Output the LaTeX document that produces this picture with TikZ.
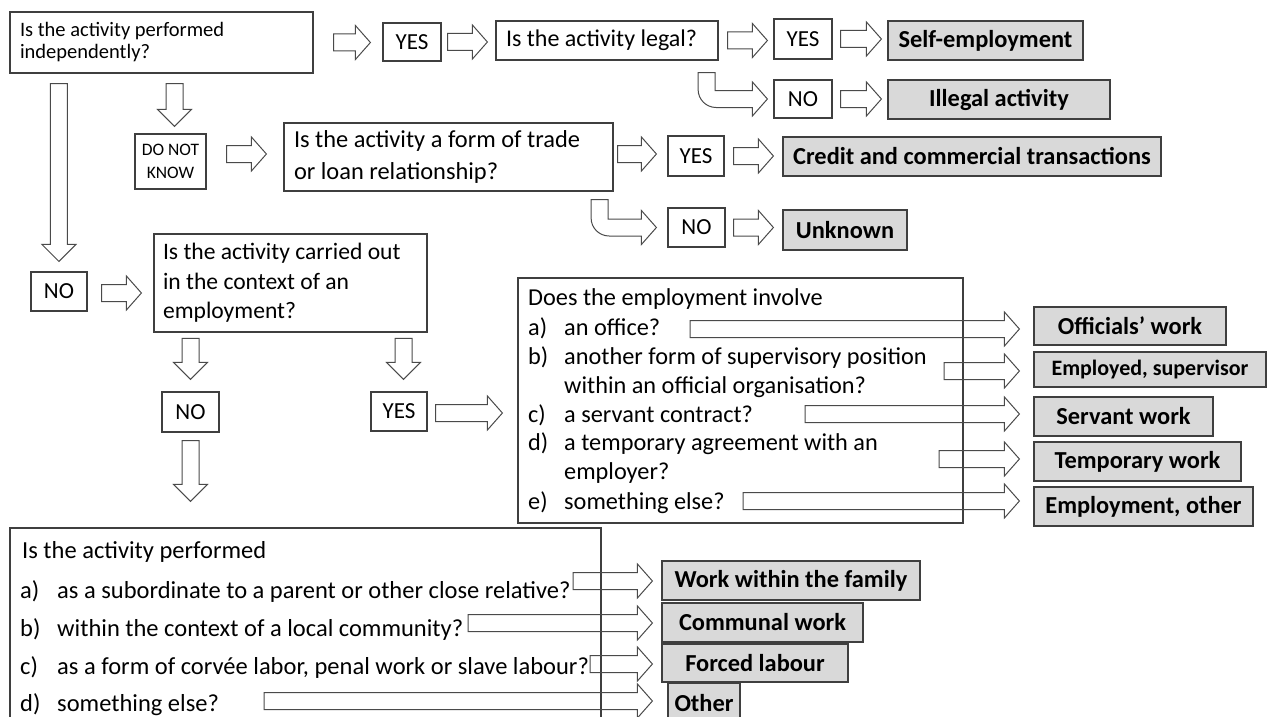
\documentclass[tikz,border=0pt]{standalone}
\usepackage{fontspec}
\setmainfont{Carlito}
\usetikzlibrary{calc}
\definecolor{BoxLine}{HTML}{3F3F3F}
\definecolor{ArrowLine}{HTML}{4A4A4A}
\definecolor{ResultFill}{HTML}{D9D9D9}
% block arrow sizes: shaft half width, head half width, head length, bend radius
\newcommand{\arrs}{8.5pt}
\newcommand{\arrh}{17pt}
\newcommand{\arrl}{15pt}
\newcommand{\arrdl}{17pt}
\newcommand{\arrr}{18pt}
\newcommand{\qsmall}{\fontsize{20.5}{22}\selectfont}
\newcommand{\listsize}{\fontsize{24.3}{29}\selectfont}
\newcommand{\activsize}{\fontsize{24.5}{29}\selectfont}
\tikzset{
  wh/.style 2 args={minimum width=#1pt, minimum height=#2pt},
  qbox/.style={draw=BoxLine, line width=1.2pt, align=flush left, inner ysep=0pt},
  ansbox/.style={draw=BoxLine, line width=1.2pt, inner sep=0pt,
                 font=\fontsize{23}{27}\selectfont},
  resbox/.style={draw=BoxLine, line width=1.2pt, fill=ResultFill, inner sep=0pt,
                 font=\fontsize{24.4}{28}\selectfont\bfseries},
  listbox/.style={draw=BoxLine, line width=1.2pt, inner sep=0pt},
  listtext/.style={anchor=base west, inner sep=0pt, font=\listsize},
  activtext/.style={anchor=base west, inner sep=0pt, font=\activsize},
  blockline/.style={draw=ArrowLine, line width=1pt, line join=miter},
  rarrow/.style={to path={let \p1=(\tikztostart), \p2=(\tikztotarget) in
    (\x1,\y1+\arrs) -- (\x2-\arrl,\y1+\arrs) -- (\x2-\arrl,\y1+\arrh) -- (\x2,\y1)
    -- (\x2-\arrl,\y1-\arrh) -- (\x2-\arrl,\y1-\arrs) -- (\x1,\y1-\arrs) -- cycle}},
  darrow/.style={to path={let \p1=(\tikztostart), \p2=(\tikztotarget) in
    (\x1-\arrs,\y1) -- (\x1-\arrs,\y2+\arrdl) -- (\x1-\arrh,\y2+\arrdl) -- (\x1,\y2)
    -- (\x1+\arrh,\y2+\arrdl) -- (\x1+\arrs,\y2+\arrdl) -- (\x1+\arrs,\y1) -- cycle}},
  larrow/.style={to path={let \p1=(\tikztostart), \p2=(\tikztotarget) in
    (\x1-\arrs,\y1) -- (\x1+\arrs,\y1) -- (\x1+\arrs,\y2+\arrs) -- (\x2-\arrl,\y2+\arrs)
    -- (\x2-\arrl,\y2+\arrh) -- (\x2,\y2) -- (\x2-\arrl,\y2-\arrh) -- (\x2-\arrl,\y2-\arrs)
    -- (\x1-\arrs+\arrr,\y2-\arrs) arc[start angle=270, end angle=180, radius=\arrr] -- cycle}},
}

\begin{document}
\begin{tikzpicture}[x=1pt, y=-1pt]
  \useasboundingbox (0,0) rectangle (1269,717);
  \clip (0,0) rectangle (1269,717);

  % independent activity
  \node[qbox, font=\qsmall, text width=283pt, inner xsep=10pt, minimum height=61pt]
    (indep) at (161.5,42.5) {Is the activity performed\\independently?};
  \node[ansbox, wh={58}{38}] (yesIndep) at (412,42) {YES};
  \node[qbox, font=\fontsize{24}{28}\selectfont, text width=202pt, inner xsep=10pt,
        minimum height=39pt] (legal) at (607,40.5) {Is the activity legal?};
  \node[ansbox, wh={58}{40}] (yesLegal) at (803,39) {YES};
  \node[resbox, wh={195}{39}] (selfemp) at (985.5,40.5) {Self-employment};
  \node[ansbox, wh={58}{38}] (noLegal) at (803,99) {NO};
  \node[resbox, wh={222}{39}] (illegal) at (999,99.5) {Illegal activity};

  \draw[blockline] ([xshift=20pt]indep.east) to[rarrow] ([xshift=-12pt]yesIndep.west);
  \draw[blockline] ([xshift=6pt]yesIndep.east) to[rarrow] ([xshift=-8pt]legal.west);
  \draw[blockline] ([xshift=9pt]legal.east) to[rarrow] ([xshift=-6pt]yesLegal.west);
  \draw[blockline] ([xshift=8pt]yesLegal.east) to[rarrow] ([xshift=-6pt]selfemp.west);
  \draw[blockline] ([xshift=-12pt,yshift=-12pt]legal.south east) to[larrow]
    ([xshift=-6pt]noLegal.west);
  \draw[blockline] ([xshift=8pt]noLegal.east) to[rarrow] ([xshift=-6pt]illegal.west);

  % do not know
  \node[ansbox, font=\fontsize{17.5}{23}\selectfont, align=center, wh={71}{55}]
    (dnk) at (170.5,161.5) {DO NOT\\KNOW};
  \node[qbox, font=\fontsize{24.4}{32}\selectfont, text width=309pt, inner xsep=10pt,
        minimum height=68pt] (trade) at (448.5,157)
    {Is the activity a form of trade\\or loan relationship?};
  \node[ansbox, wh={56}{40}] (yesTrade) at (696,156) {YES};
  \node[resbox, wh={378}{39}] (credit) at (972,156.5) {Credit and commercial transactions};
  \node[ansbox, wh={57}{39}] (noTrade) at (696.5,227.5) {NO};
  \node[resbox, wh={124}{40}] (unknown) at (845,230) {Unknown};

  \draw[blockline] ([xshift=13pt,yshift=-10pt]indep.south) to[darrow]
    ([xshift=4pt,yshift=7pt]dnk.north);
  \draw[blockline] ([xshift=20pt,yshift=7.5pt]dnk.east) to[rarrow] ([xshift=-17pt]trade.west);
  \draw[blockline] ([xshift=4pt,yshift=3pt]trade.east) to[rarrow] ([xshift=-11pt]yesTrade.west);
  \draw[blockline] ([xshift=9pt]yesTrade.east) to[rarrow] ([xshift=-9pt]credit.west);
  \draw[blockline] ([xshift=-14pt,yshift=-8pt]trade.south east) to[larrow]
    ([xshift=-11pt]noTrade.west);
  \draw[blockline] ([xshift=8pt]noTrade.east) to[rarrow] ([xshift=-9pt]unknown.west);

  % not independent
  \node[ansbox, wh={56}{39}] (noIndep) at (59,291.5) {NO};
  \node[qbox, font=\fontsize{23.6}{29.5}\selectfont, text width=255pt, inner xsep=9pt,
        minimum height=98pt] (context) at (290.5,283)
    {Is the activity carried out\\in the context of an\\employment?};
  \node[ansbox, wh={57}{40}] (noContext) at (190.5,412) {NO};
  \node[ansbox, wh={56}{39}] (yesContext) at (399,411.5) {YES};

  \draw[blockline] ([xshift=49.5pt,yshift=-10pt]indep.south west) to[darrow]
    ([yshift=10pt]noIndep.north);
  \draw[blockline] ([xshift=14pt,yshift=-1.5pt]noIndep.east) to[rarrow]
    ([xshift=-12pt]context.west);
  \draw[blockline] ([yshift=53pt]noContext.north) to[darrow] ([yshift=12pt]noContext.north);
  \draw[blockline] ([xshift=4.5pt,yshift=53pt]yesContext.north) to[darrow]
    ([xshift=4.5pt,yshift=12pt]yesContext.north);

  % employment
  \node[listbox, wh={445}{245}] (employ) at (740.5,400.5) {};
  \node[listtext] (employHead) at (528,305) {Does the employment involve};
  \node[listtext] (empLabA) at (528,335) {a)};
  \node[listtext] (empA) at (564,335) {an office?};
  \node[listtext] (empLabB) at (528,364) {b)};
  \node[listtext] (empB) at (564,364) {another form of supervisory position};
  \node[listtext] (empBB) at (564,393) {within an official organisation?};
  \node[listtext] (empLabC) at (528,422) {c)};
  \node[listtext] (empC) at (564,422) {a servant contract?};
  \node[listtext] (empLabD) at (528,450) {d)};
  \node[listtext] (empD) at (564,450) {a temporary agreement with an};
  \node[listtext] (empDD) at (564,479) {employer?};
  \node[listtext] (empLabE) at (528,509) {e)};
  \node[listtext] (empE) at (564,509) {something else?};

  \node[resbox, wh={192}{38}] (officials) at (1130,326) {Officials’ work};
  \node[resbox, wh={232}{35}, font=\fontsize{22}{26}\selectfont\bfseries]
    (supervisor) at (1150,369.5) {Employed, supervisor};
  \node[resbox, wh={179}{39}] (servant) at (1123.5,416.5) {Servant work};
  \node[resbox, wh={207}{39}] (temporary) at (1137.5,461.5) {Temporary work};
  \node[resbox, wh={219}{39}] (emplother) at (1143.5,506.5) {Employment, other};

  \coordinate (empAOut) at (690,329);
  \coordinate (empBOut) at (944,371);
  \coordinate (empCOut) at (805,414);
  \coordinate (empDOut) at (939,459);
  \coordinate (empEOut) at (743,501);

  \draw[blockline] ([xshift=8pt,yshift=-1.5pt]yesContext.east) to[rarrow]
    ([xshift=-15pt]employ.west);
  \draw[blockline] (empAOut) to[rarrow] ([xshift=-14pt]officials.west);
  \draw[blockline] (empBOut) to[rarrow] ([xshift=-14pt]supervisor.west);
  \draw[blockline] (empCOut) to[rarrow] ([xshift=-14pt]servant.west);
  \draw[blockline] (empDOut) to[rarrow] ([xshift=-14pt]temporary.west);
  \draw[blockline] (empEOut) to[rarrow] ([xshift=-14pt]emplother.west);

  % kind of activity
  \node[listbox, wh={591}{212}] (activity) at (305.5,634) {};
  \draw[blockline] ([yshift=-8pt]noContext.south) to[darrow] ([yshift=26pt]activity.north);
  \node[activtext] (actHead) at (22,558) {Is the activity performed};
  \node[activtext] (actLabA) at (20,598) {a)};
  \node[activtext] (actA) at (57,598) {as a subordinate to a parent or other close relative?};
  \node[activtext] (actLabB) at (20,636) {b)};
  \node[activtext] (actB) at (57,636) {within the context of a local community?};
  \node[activtext] (actLabC) at (20,674) {c)};
  \node[activtext] (actC) at (57,674) {as a form of corvée labor, penal work or slave labour?};
  \node[activtext] (actLabD) at (20,711) {d)};
  \node[activtext] (actD) at (57,711) {something else?};

  \node[resbox, wh={258}{39}] (family) at (791,580.5) {Work within the family};
  \node[resbox, wh={201}{39}] (communal) at (762.5,622.5) {Communal work};
  \node[resbox, wh={186}{38}] (forced) at (755,663) {Forced labour};
  \node[resbox, wh={72}{40}] (other) at (704,703.5) {Other};

  \coordinate (actAOut) at (573,581);
  \coordinate (actBOut) at (468,623);
  \coordinate (actCOut) at (590,664);
  \coordinate (actDOut) at (264,701);

  \draw[blockline] (actAOut) to[rarrow] ([xshift=-9pt]family.west);
  \draw[blockline] (actBOut) to[rarrow] ([xshift=-9pt]communal.west);
  \draw[blockline] (actCOut) to[rarrow] ([xshift=-9pt]forced.west);
  \draw[blockline] (actDOut) to[rarrow] ([xshift=-15pt]other.west);
\end{tikzpicture}
\end{document}
